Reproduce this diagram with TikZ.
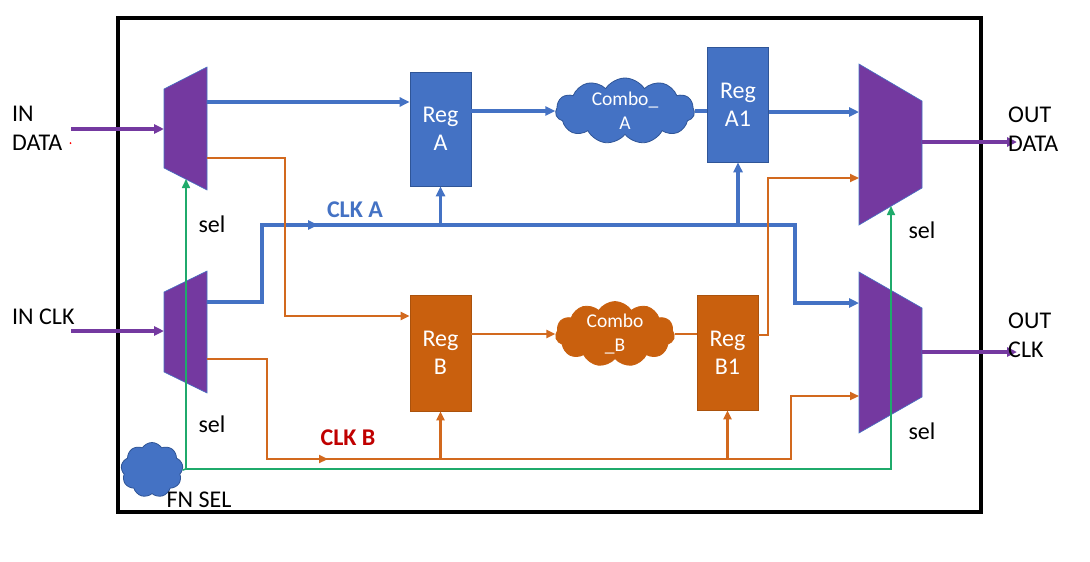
\documentclass[tikz,border=0pt]{standalone}
\usepackage{fontspec}
\setmainfont{Carlito}
\usetikzlibrary{shapes.symbols,arrows.meta}
\definecolor{oblue}{HTML}{4472C4}
\definecolor{bblue}{HTML}{2F5597}
\definecolor{oorange}{HTML}{C9600E}
\definecolor{lorange}{HTML}{D2691E}
\definecolor{mpurple}{HTML}{7439A0}
\definecolor{sgreen}{HTML}{1FAA6B}
\definecolor{cred}{HTML}{C00000}
\begin{document}
\begin{tikzpicture}[x=1pt,y=-1pt,
  lbl/.style={font=\fontsize{24}{29}\selectfont, inner sep=0, align=left},
  regbox/.style={minimum width=61pt, inner sep=0, text=white, align=center,
     font=\fontsize{24}{28}\selectfont},
  rega/.style={regbox, fill=oblue, draw=bblue, line width=0.6pt},
  regb/.style={regbox, fill=oorange, draw=oorange!85!black, line width=0.6pt},
  cloudsh/.style={cloud, cloud puffs=11, cloud puff arc=115, aspect=2, inner sep=0, line width=0.8pt},
  ctext/.style={text=white, align=center, font=\fontsize{19.5}{24}\selectfont, inner sep=0},
  bw/.style={draw=oblue, line width=3.2pt},
  ow/.style={draw=lorange, line width=2.2pt},
  gw/.style={draw=sgreen, line width=1.6pt},
  pw/.style={draw=mpurple, line width=4pt},
  tipb/.style={-{Triangle[length=10pt,width=9pt]}},
  tipo/.style={-{Triangle[length=9pt,width=8pt]}},
  tipg/.style={-{Triangle[length=9pt,width=8pt]}},
  tipp/.style={-{Triangle[length=10pt,width=9pt]}},
  muxsh/.style={fill=mpurple, draw=oblue, line width=0.6pt}
]
\useasboundingbox (0,0) rectangle (1090,562);
\fill[white] (0,0) rectangle (1090,562);
\draw[line width=3.2pt] (118,18) rectangle (981,512);

% muxes
\fill[muxsh] (164,89) -- (207,67) -- (207,190) -- (164,168) -- cycle;
\fill[muxsh] (164,292) -- (207,271) -- (207,393) -- (164,372) -- cycle;
\fill[muxsh] (859,64) -- (922,101) -- (922,188) -- (859,225) -- cycle;
\fill[muxsh] (859,272) -- (922,308) -- (922,397) -- (859,433) -- cycle;

% mux ports
\coordinate (m1in) at (164,129);
\coordinate (m1ob) at (207,102);
\coordinate (m1oo) at (207,158);
\coordinate (m1sel) at (186,179);
\coordinate (m2in) at (164,331);
\coordinate (m2ob) at (207,302);
\coordinate (m2oo) at (207,359);
\coordinate (m3ib) at (859,112);
\coordinate (m3io) at (859,178);
\coordinate (m3out) at (922,142);
\coordinate (m3sel) at (891,206);
\coordinate (m4ib) at (859,303);
\coordinate (m4io) at (859,396);
\coordinate (m4out) at (922,352);
\coordinate (inD) at (71,129);
\coordinate (inC) at (71,331);
\coordinate (outD) at (1017,142);
\coordinate (outC) at (1017,352);

% registers
\node[rega, minimum height=114pt] (regA) at (440.5,129) {Reg\\A};
\node[rega, minimum height=115pt] (regA1) at (738,104.5) {Reg\\A1};
\node[regb, minimum height=116pt] (regB) at (440.5,353) {Reg\\B};
\node[regb, minimum height=115pt] (regB1) at (727.5,352.5) {Reg\\B1};

% clouds
\node[cloudsh, fill=oblue, draw=bblue, minimum width=139pt, minimum height=66pt] (cA) at (625,111) {};
\node[ctext] (cAt) at (cA) {Combo\_\\A};
\node[cloudsh, fill=oorange, draw=oorange, minimum width=119pt, minimum height=65pt] (cB) at (615,334) {};
\node[ctext] (cBt) at (cB) {Combo\\\_B};
\node[cloudsh, cloud puffs=9, aspect=1.1, fill=oblue, draw=bblue, minimum width=62pt, minimum height=55pt] (fn) at (152,470) {};

% blue data path
\draw[bw,tipb] (m1ob) -- (m1ob -| regA.west);
\draw[bw,tipb] (regA.east |- cA.west) -- (cA.west);
\draw[bw] (cA.east) -- (cA.east -| regA1.west);
\draw[bw,tipb] (regA1.east |- m3ib) -- (m3ib);

% CLK A
\coordinate (ca1) at (262,302);
\coordinate (ca2) at (262,225);
\coordinate (ca3) at (795,225);
\coordinate (ca4) at (795,303);
\draw[bw,tipb] (m2ob) -- (ca1) -- (ca2) -- (ca3) -- (ca4) -- (m4ib);
\coordinate (camid) at (318,225);
\draw[bw,tipb] (ca2) -- (camid);
\draw[bw,tipb] (regA.south |- ca2) -- (regA.south);
\draw[bw,tipb] (regA1.south |- ca2) -- (regA1.south);

% orange data path
\coordinate (ob1) at (285,158);
\coordinate (ob2) at (285,316);
\draw[ow,tipo] (m1oo) -- (ob1) -- (ob2) -- (ob2 -| regB.west);
\draw[ow,tipo] (regB.east |- cB.west) -- (cB.west);
\draw[ow] (cB.east) -- (cB.east -| regB1.west);
\coordinate (ob3) at (768,335);
\coordinate (ob4) at (768,178);
\draw[ow,tipo] (regB1.east |- ob3) -- (ob3) -- (ob4) -- (m3io);

% CLK B
\coordinate (cb1) at (267,359);
\coordinate (cb2) at (267,459);
\coordinate (cb3) at (791,459);
\coordinate (cb4) at (791,396);
\draw[ow,tipo] (m2oo) -- (cb1) -- (cb2) -- (cb3) -- (cb4) -- (m4io);
\coordinate (cbmid) at (328,459);
\draw[ow,tipo] (cb2) -- (cbmid);
\draw[ow,tipo] (regB.south |- cb2) -- (regB.south);
\draw[ow,tipo] (regB1.south |- cb2) -- (regB1.south);

% green select
\coordinate (g0) at (186,469);
\coordinate (g1) at (891,469);
\draw[gw] (fn.east) -- (g0);
\draw[gw,tipg] (g0) -- (m1sel);
\draw[gw,tipg] (g0) -- (g1) -- (m3sel);

% purple IO
\draw[pw,tipp] (inD) -- (m1in);
\draw[pw,tipp] (inC) -- (m2in);
\draw[pw,tipp] (m3out) -- (outD);
\draw[pw,tipp] (m4out) -- (outC);

% labels
\node[lbl, anchor=north west] (tinD) at (12,106) {IN\\DATA};
\fill[red] (70.5,143) circle (1pt);
\node[lbl, anchor=west] (tinC) at (12,317) {IN CLK};
\node[lbl, anchor=north west] (toutD) at (1008,107) {OUT\\DATA};
\node[lbl, anchor=north west] (toutC) at (1008,313) {OUT\\CLK};
\node[lbl] (s1) at (212,224) {sel};
\node[lbl] (s2) at (212,424) {sel};
\node[lbl] (s3) at (922,230) {sel};
\node[lbl] (s4) at (922,431) {sel};
\node[lbl, font=\fontsize{24}{29}\selectfont\bfseries, text=oblue] (tca) at (355,210) {CLK A};
\node[lbl, font=\fontsize{24}{29}\selectfont\bfseries, text=cred] (tcb) at (348,438) {CLK B};
\node[lbl] (tfn) at (199,500) {FN SEL};
\end{tikzpicture}
\end{document}
